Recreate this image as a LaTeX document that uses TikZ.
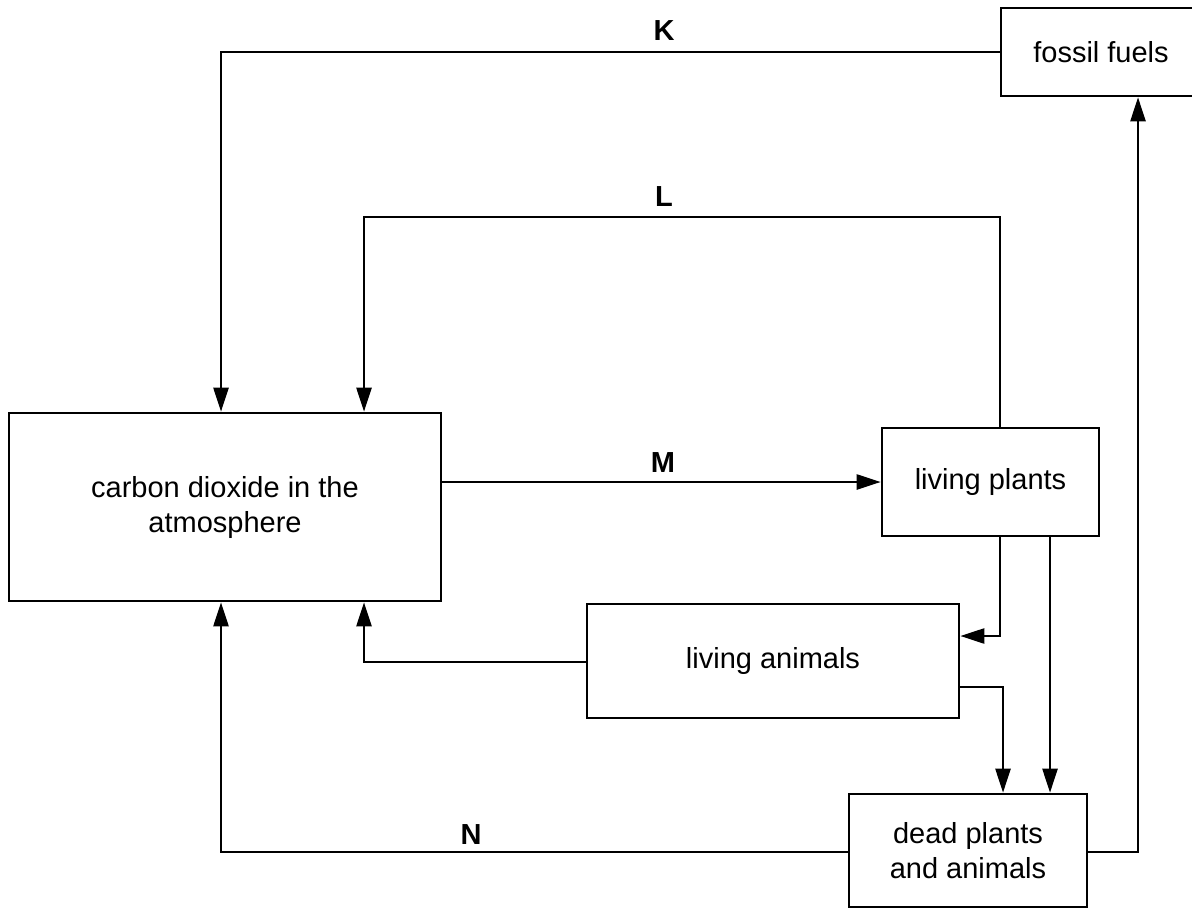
\documentclass[tikz,border=0pt]{standalone}
\usepackage{fontspec}
\setmainfont{Liberation Sans}
\usetikzlibrary{arrows.meta}

\tikzset{
    box/.style={draw,line width=1.3pt,align=center,inner sep=0pt,font=\fontsize{14.5}{17.5}\selectfont},
    flow/.style={line width=1.2pt,-{Triangle[length=12pt,width=7.5pt]}},
    lbl/.style={font=\fontsize{14.5}{17.5}\selectfont\bfseries}
}

\begin{document}
\begin{tikzpicture}[x=0.5pt,y=-0.5pt]
    \useasboundingbox (0,0) rectangle (1192,909);
    \node[box,minimum width=216pt,minimum height=94pt](co2)at(225,507){carbon dioxide in the\\atmosphere};
    \node[box,minimum width=108.5pt,minimum height=54pt](plants)at(990.5,482){living plants};
    \node[box,minimum width=186pt,minimum height=57pt](animals)at(773,661){living animals};
    \node[box,minimum width=119pt,minimum height=56.5pt](dead)at(968,850.5){dead plants\\and animals};
    \node[box,minimum width=100pt,minimum height=44pt](fossil)at(1101,52){fossil fuels};
    % corners of the connectors
    \coordinate(k)at(221,52);
    \coordinate(l1)at(1000,217);
    \coordinate(l2)at(364,217);
    \coordinate(pa)at(1000,636);
    \coordinate(pd)at(1050,0);
    \coordinate(ad)at(1003,687);
    \coordinate(ac)at(364,662);
    \coordinate(n)at(221,852);
    \coordinate(df)at(1138,852);
    \draw[flow](fossil.west)--(k)--(k|-co2.north);
    \draw[flow](l1|-plants.north)--(l1)--(l2)--(l2|-co2.north);
    \draw[flow](co2.east|-plants.west)--(plants.west);
    \draw[flow](pa|-plants.south)--(pa)--(pa-|animals.east);
    \draw[flow](pd|-plants.south)--(pd|-dead.north);
    \draw[flow](ad-|animals.east)--(ad)--(ad|-dead.north);
    \draw[flow](ac-|animals.west)--(ac)--(ac|-co2.south);
    \draw[flow](n-|dead.west)--(n)--(n|-co2.south);
    \draw[flow](df-|dead.east)--(df)--(df|-fossil.south);
    \node[lbl](kl)at(664,31){K};
    \node[lbl](ll)at(664,197){L};
    \node[lbl](ml)at(663,463){M};
    \node[lbl](nl)at(471,835){N};
\end{tikzpicture}
\end{document}
